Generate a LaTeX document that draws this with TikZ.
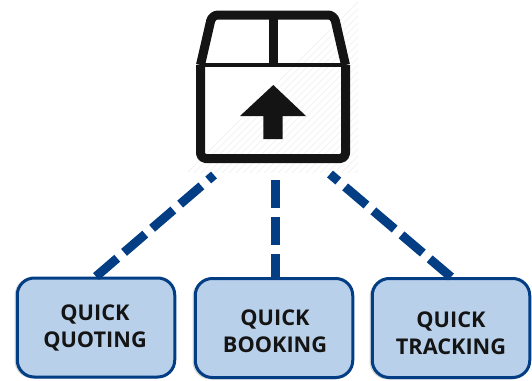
\documentclass[tikz,border=0pt]{standalone}
\usepackage{fontspec}
\setmainfont{Open Sans}
\definecolor{linkblue}{HTML}{033E85}
\definecolor{boxfill}{HTML}{B9D0EA}
\definecolor{iconblack}{HTML}{141414}
\definecolor{hatchgrey}{HTML}{F3F3F3}
\tikzset{
  pic1/.style={x=1pt,y=-1pt},
  servicebox/.style={draw=linkblue,fill=boxfill,line width=3pt,rounded corners=17pt,minimum width=157.5pt,minimum height=99pt,inner sep=0pt},
  softedge/.style={fill=black,fill opacity=.16,rounded corners=18pt,minimum width=160pt,minimum height=101pt,inner sep=0pt},
  servicetext/.style={font=\fontsize{21.7}{27}\selectfont\bfseries,text=iconblack,align=center,inner sep=0pt},
  link/.style={draw=linkblue,line width=9pt,dash pattern=on 28pt off 9pt},
  iconline/.style={draw=iconblack,line width=9pt,line join=round},
  iconthin/.style={draw=iconblack,line width=4.5pt},
}
\begin{document}
\begin{tikzpicture}[pic1]
\useasboundingbox (0,0) rectangle (532,380);
% faint hatching behind the icon
\begin{scope}
\clip (188,0) rectangle (358,172);
\foreach \k in {0,7,...,350}{
  \draw[hatchgrey,line width=1pt] (180+\k,180) -- (180+\k+180,0);
}
\end{scope}
% icon
\node[minimum width=154pt,minimum height=153pt,inner sep=0pt] (icon) at (273,86.5) {};
\draw[iconline,rounded corners=5pt] (200.5,65) -- (200.5,158.5) -- (345.5,158.5) -- (345.5,65);
\draw[iconline,rounded corners=6pt] (200.5,65) -- (212,15) -- (334,15) -- (345.5,65);
\draw[iconthin] (200.5,65) -- (345.5,65);
\draw[draw=iconblack,line width=8.5pt] (273.5,15) -- (273.5,65);
\fill[iconblack] (273.3,85) -- (306,116) -- (282.7,116) -- (282.7,139) -- (263.3,139) -- (263.3,116) -- (240,116) -- cycle;
\coordinate (leftend) at (214,175);
\coordinate (midend) at (275,177);
\coordinate (rightend) at (330,174);
% boxes
\node[softedge] at (94.5,328) {};
\node[softedge] at (272.5,329) {};
\node[softedge] at (449.5,329) {};
\node[servicebox] (quoting) at (96,327.5) {};
\node[servicebox] (booking) at (274,328) {};
\node[servicebox] (tracking) at (451,328) {};
\node[servicetext] (quotingtext) at (95,328) {QUICK\\QUOTING};
\node[servicetext] (bookingtext) at (275,331.5) {QUICK\\BOOKING};
\node[servicetext] (trackingtext) at (451,333.5) {QUICK\\TRACKING};
% connectors
\draw[link,dash phase=0pt] (quoting.north) -- (leftend);
\draw[link,dash phase=4.5pt] (booking.north -| midend) -- (midend);
\draw[link,dash phase=0pt] (tracking.north) -- (rightend);
\end{tikzpicture}
\end{document}
